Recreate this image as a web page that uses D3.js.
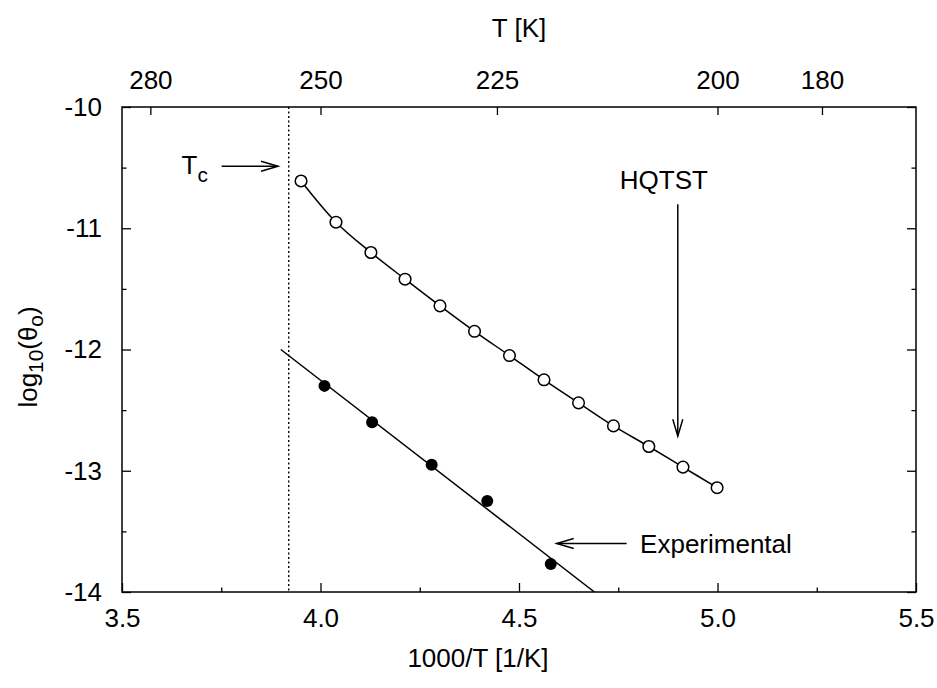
<!DOCTYPE html>
<html>
<head>
<meta charset="utf-8">
<script src="https://cdn.jsdelivr.net/npm/d3@7/dist/d3.min.js"></script>
<style>
  html, body { margin: 0; padding: 0; background: #fff; }
  svg text { font-family: "Liberation Sans", Arial, Helvetica, sans-serif; fill: #000; }
</style>
</head>
<body>
<svg id="chart" width="937" height="688"></svg>
<script>
// ---- data ----
const hqtstX = [3.951, 4.039, 4.127, 4.213, 4.301, 4.388, 4.476, 4.563, 4.650, 4.738, 4.827, 4.913, 4.999];
const hqtstY = [-10.61, -10.95, -11.20, -11.42, -11.64, -11.85, -12.05, -12.25, -12.44, -12.63, -12.80, -12.97, -13.14];
const expX = [4.01, 4.13, 4.28, 4.42, 4.58];
const expY = [-12.30, -12.60, -12.95, -13.25, -13.77];
const fitX = [3.90, 4.69];
const fitY = [-12.00, -14.00];
const tcX = 3.92;
const xTicks = [3.5, 4.0, 4.5, 5.0, 5.5];
const xMinorTicks = [3.75, 4.25, 4.75, 5.25];
const yTicks = [-10, -11, -12, -13, -14];
const yMinorTicks = [-10.5, -11.5, -12.5, -13.5];
const topTickT = [280, 250, 225, 200, 190];
const topTickLabels = ["280", "250", "225", "200", "180"];

// ---- layout ----
const svg = d3.select("#chart");
const L = 122, R = 916, T = 107, B = 592;
const x = d3.scaleLinear().domain([3.5, 5.5]).range([L, R]);
const y = d3.scaleLinear().domain([-14, -10]).range([B, T]);
const FS = 26;

// markers
const defs = svg.append("defs");
defs.append("marker").attr("id", "vhead").attr("markerUnits", "userSpaceOnUse")
  .attr("viewBox", "-20 -8 24 16").attr("markerWidth", 24).attr("markerHeight", 16)
  .attr("refX", 0).attr("refY", 0).attr("orient", "auto")
  .append("path").attr("d", "M-17,-5 L0,0 L-17,5").attr("fill", "none")
  .attr("stroke", "#000").attr("stroke-width", 1.5);
defs.append("clipPath").attr("id", "plotclip").append("rect")
  .attr("x", L).attr("y", T).attr("width", R - L).attr("height", B - T);

// axes
function styleAxis(g) {
  g.select(".domain").remove();
  g.selectAll("line").attr("stroke", "#000").attr("stroke-width", 1.3);
  g.selectAll("text").style("font-size", FS + "px").attr("fill", "#000");
}
svg.append("g").attr("transform", `translate(0,${B})`)
  .call(d3.axisBottom(x).tickValues(xTicks).tickFormat(d3.format(".1f")).tickSize(-9).tickPadding(17))
  .call(styleAxis);
svg.append("g").attr("transform", `translate(0,${B})`)
  .call(d3.axisBottom(x).tickValues(xMinorTicks).tickFormat("").tickSize(-4.5))
  .call(styleAxis);
svg.append("g").attr("transform", `translate(${L},0)`)
  .call(d3.axisLeft(y).tickValues(yTicks).tickFormat(d => String(d)).tickSize(-9).tickPadding(20))
  .call(styleAxis);
svg.append("g").attr("transform", `translate(${L},0)`)
  .call(d3.axisLeft(y).tickValues(yMinorTicks).tickFormat("").tickSize(-4.5))
  .call(styleAxis);
svg.append("g").attr("transform", `translate(${R},0)`)
  .call(d3.axisRight(y).tickValues(yTicks).tickFormat("").tickSize(-9))
  .call(styleAxis);
svg.append("g").attr("transform", `translate(${R},0)`)
  .call(d3.axisRight(y).tickValues(yMinorTicks).tickFormat("").tickSize(-4.5))
  .call(styleAxis);
svg.append("g").attr("transform", `translate(0,${T})`)
  .call(d3.axisTop(x).tickValues(topTickT.map(t => 1000 / t))
    .tickFormat((d, i) => topTickLabels[i]).tickSize(-8).tickPadding(18))
  .call(styleAxis);

// frame
svg.append("rect").attr("x", L).attr("y", T).attr("width", R - L).attr("height", B - T)
  .attr("fill", "none").attr("stroke", "#000").attr("stroke-width", 1.5);

// axis titles
svg.append("text").attr("x", (L + R) / 2).attr("y", 37).attr("text-anchor", "middle")
  .style("font-size", FS + "px").text("T [K]");
svg.append("text").attr("x", 478).attr("y", 667).attr("text-anchor", "middle")
  .style("font-size", FS + "px").text("1000/T [1/K]");
const yl = svg.append("text").attr("transform", `translate(37,357) rotate(-90)`)
  .attr("text-anchor", "middle").style("font-size", FS + "px");
yl.append("tspan").text("log");
yl.append("tspan").attr("dy", 6).style("font-size", (FS * 0.8) + "px").text("10");
yl.append("tspan").attr("dy", -6).text("(θ");
yl.append("tspan").attr("dy", 6).style("font-size", (FS * 0.8) + "px").text("o");
yl.append("tspan").attr("dy", -6).text(")");

// Tc dotted line
svg.append("line").attr("x1", x(tcX)).attr("x2", x(tcX)).attr("y1", T).attr("y2", B)
  .attr("stroke", "#000").attr("stroke-width", 1.4).attr("stroke-dasharray", "2,2.5");

const plot = svg.append("g").attr("clip-path", "url(#plotclip)");

// HQTST curve
const hq = hqtstX.map((v, i) => [v, hqtstY[i]]);
plot.append("path").datum(hq)
  .attr("d", d3.line().x(d => x(d[0])).y(d => y(d[1])).curve(d3.curveCatmullRom))
  .attr("fill", "none").attr("stroke", "#000").attr("stroke-width", 1.5);

// Experimental fit line
const fit = fitX.map((v, i) => [v, fitY[i]]);
plot.append("path").datum(fit)
  .attr("d", d3.line().x(d => x(d[0])).y(d => y(d[1])))
  .attr("fill", "none").attr("stroke", "#000").attr("stroke-width", 1.5);

// points
svg.append("g").selectAll("circle").data(hq).join("circle")
  .attr("cx", d => x(d[0])).attr("cy", d => y(d[1])).attr("r", 5.8)
  .attr("fill", "#fff").attr("stroke", "#000").attr("stroke-width", 1.5);
svg.append("g").selectAll("circle").data(expX.map((v, i) => [v, expY[i]])).join("circle")
  .attr("cx", d => x(d[0])).attr("cy", d => y(d[1])).attr("r", 6)
  .attr("fill", "#000");

// annotations
function arrow(x1, y1, x2, y2) {
  svg.append("line").attr("x1", x(x1)).attr("y1", y(y1)).attr("x2", x(x2)).attr("y2", y(y2))
    .attr("stroke", "#000").attr("stroke-width", 1.5).attr("marker-end", "url(#vhead)");
}
arrow(3.751, -10.489, 3.893, -10.489);
arrow(4.900, -10.802, 4.900, -12.715);
arrow(4.771, -13.600, 4.595, -13.600);

const tc = svg.append("text").attr("x", x(3.650)).attr("y", y(-10.549)).style("font-size", FS + "px");
tc.append("tspan").text("T");
tc.append("tspan").attr("dy", 8).style("font-size", (FS * 0.8) + "px").text("c");
svg.append("text").attr("x", x(4.865)).attr("y", y(-10.678)).attr("text-anchor", "middle")
  .style("font-size", FS + "px").text("HQTST");
svg.append("text").attr("x", x(4.805)).attr("y", y(-13.68))
  .style("font-size", FS + "px").text("Experimental");
</script>
</body>
</html>
